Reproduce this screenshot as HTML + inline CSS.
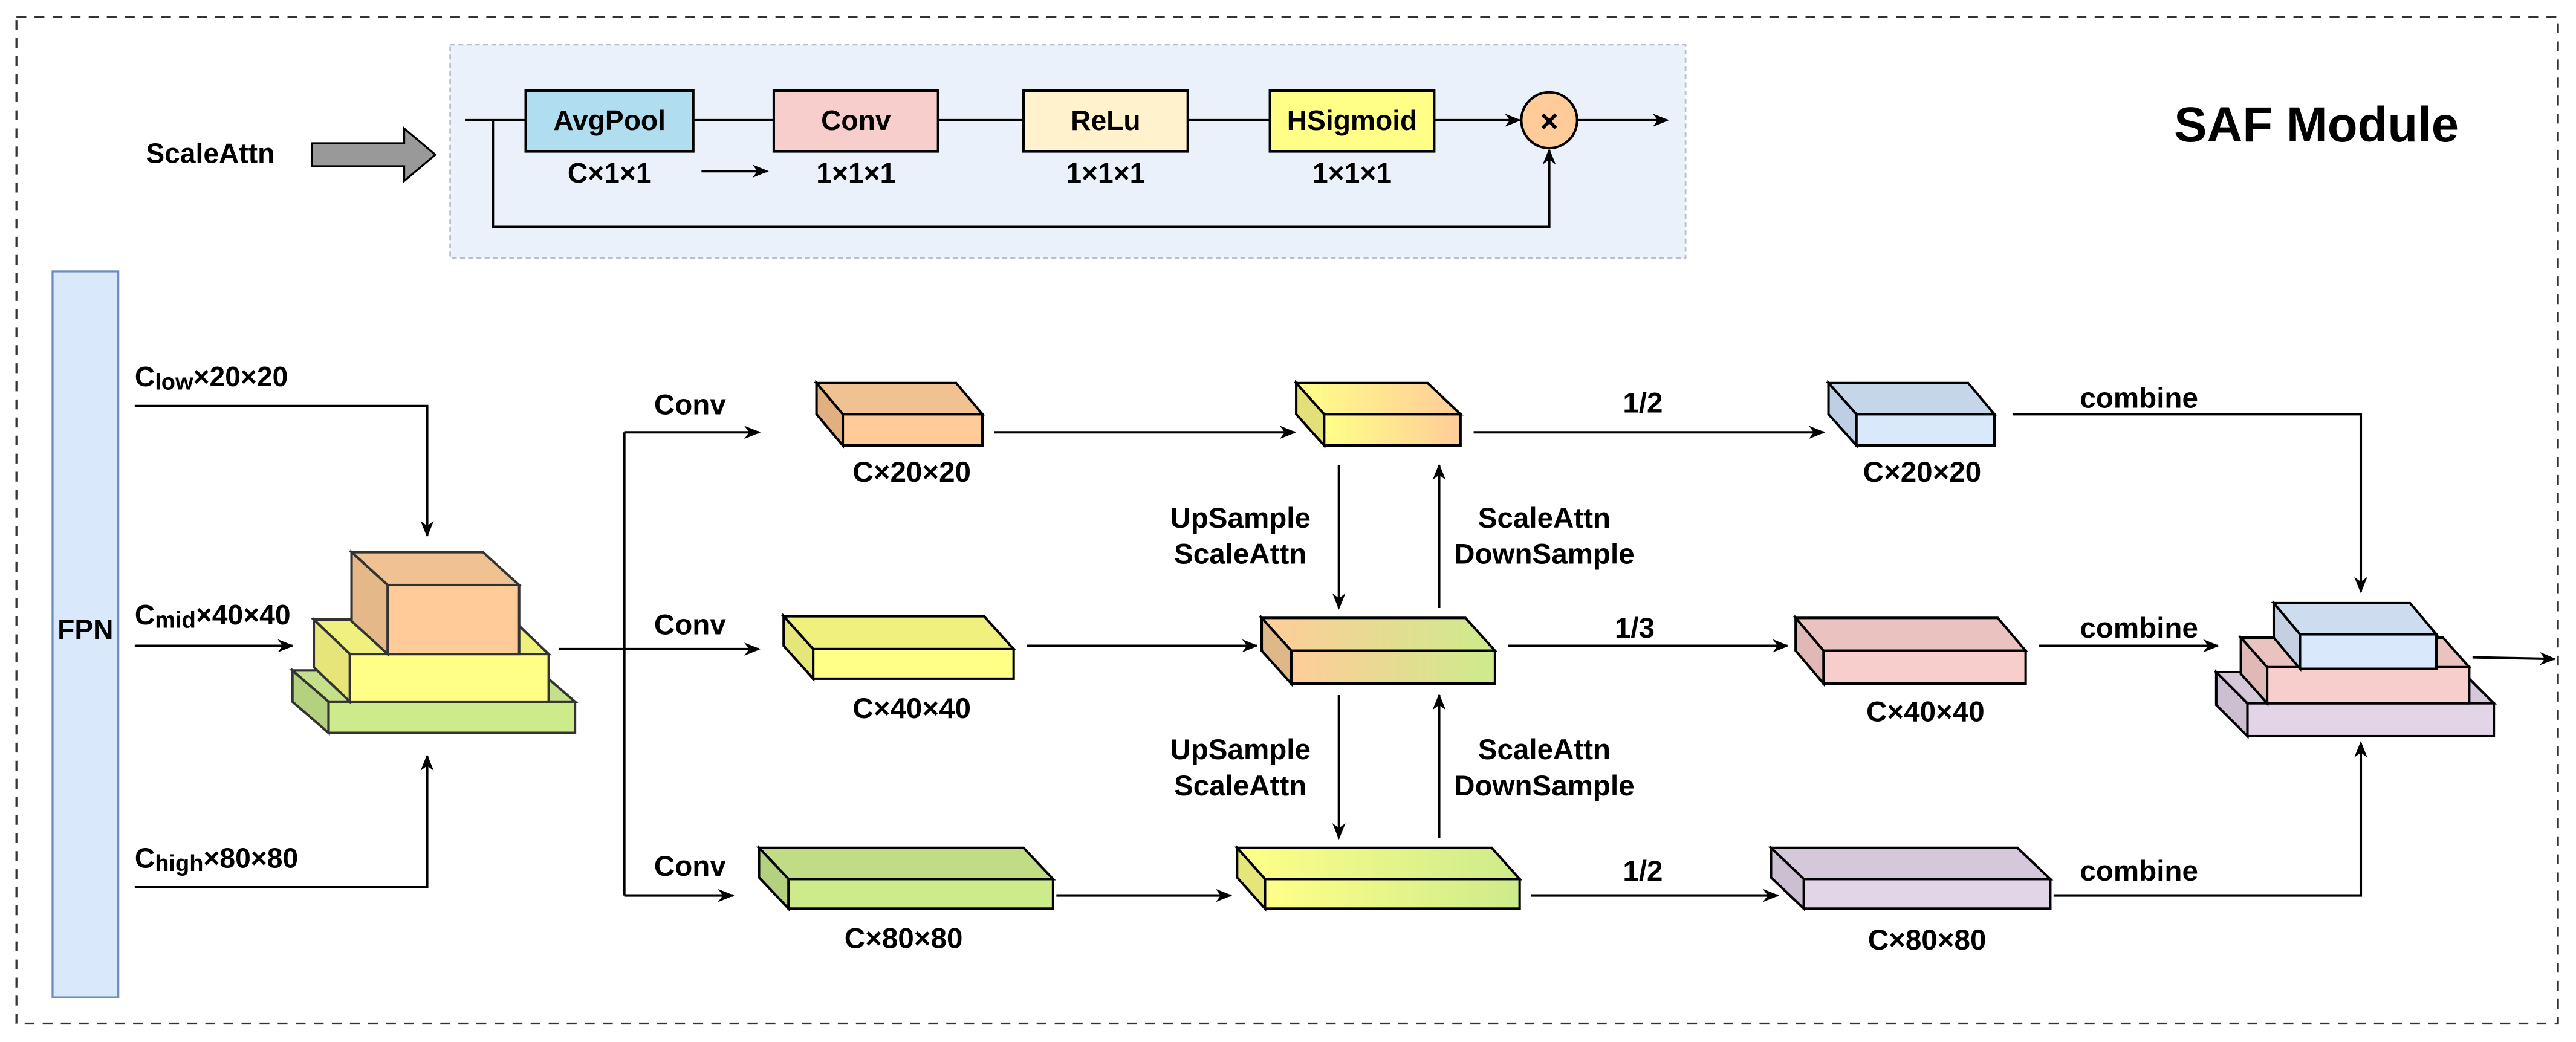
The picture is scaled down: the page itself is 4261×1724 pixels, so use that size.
<!DOCTYPE html>
<html><head><meta charset="utf-8"><style>
html,body{margin:0;padding:0;background:#fff;}
svg{display:block;}
text{font-family:"Liberation Sans",Arial,sans-serif;font-weight:bold;fill:#000;}
</style></head><body>
<svg width="4261" height="1724" viewBox="0 0 1568 634" xmlns="http://www.w3.org/2000/svg">
<defs>
<marker id="a" markerWidth="10" markerHeight="8" refX="9" refY="4" orient="auto" markerUnits="userSpaceOnUse"><path d="M0,0 L10,4 L0,8 L3,4 z" fill="#000"/></marker>
<linearGradient id="g1" x1="0" x2="1"><stop offset="0" stop-color="#ffff88"/><stop offset="1" stop-color="#ffcc99"/></linearGradient>
<linearGradient id="g2" x1="0" x2="1"><stop offset="0" stop-color="#ffcc99"/><stop offset="1" stop-color="#cdeb8b"/></linearGradient>
<linearGradient id="g3" x1="0" x2="1"><stop offset="0" stop-color="#ffff88"/><stop offset="1" stop-color="#cdeb8b"/></linearGradient>
</defs>
<rect x="10" y="10" width="1547" height="613" fill="none" stroke="#333" stroke-width="1.2" stroke-dasharray="6,5"/>
<rect x="274" y="27" width="752" height="130" fill="#eaf1fb" stroke="#b8bfca" stroke-width="1" stroke-dasharray="3,2"/>
<text x="128" y="99" font-size="17" text-anchor="middle">ScaleAttn</text>
<path d="M190,87 H246 V78 L265,94 L246,110 V101 H190 Z" fill="#999" stroke="#000" stroke-width="1.2"/>
<g stroke="#000" stroke-width="1.5" fill="none">
<line x1="283" y1="73" x2="320" y2="73"/>
<line x1="422" y1="73" x2="471" y2="73"/>
<line x1="571" y1="73" x2="623" y2="73"/>
<line x1="723" y1="73" x2="773" y2="73"/>
<line x1="873" y1="73" x2="925" y2="73" marker-end="url(#a)"/>
<line x1="960" y1="73" x2="1015" y2="73" marker-end="url(#a)"/>
<path d="M300,73 V138 H943 V91" marker-end="url(#a)"/>
<line x1="427" y1="104" x2="467" y2="104" marker-end="url(#a)"/>
</g>
<g stroke="#000" stroke-width="1.5">
<rect x="320" y="55" width="102" height="37" fill="#b1ddf0"/>
<rect x="471" y="55" width="100" height="37" fill="#f8cecc"/>
<rect x="623" y="55" width="100" height="37" fill="#fff2cc"/>
<rect x="773" y="55" width="100" height="37" fill="#ffff88"/>
<circle cx="943" cy="73" r="17" fill="#ffcc99"/>
</g>
<text x="943" y="80" font-size="19" text-anchor="middle">×</text>
<g font-size="17" text-anchor="middle">
<text x="371" y="79">AvgPool</text><text x="521" y="79">Conv</text><text x="673" y="79">ReLu</text><text x="823" y="79">HSigmoid</text>
<text x="371" y="111">C×1×1</text><text x="521" y="111">1×1×1</text><text x="673" y="111">1×1×1</text><text x="823" y="111">1×1×1</text>
</g>
<text x="1410" y="86" font-size="30" text-anchor="middle">SAF Module</text>
<rect x="32" y="165" width="40" height="442" fill="#dae8fc" stroke="#6c8ebf" stroke-width="1.2"/>
<text x="52" y="389" font-size="17" text-anchor="middle">FPN</text>
<g font-size="17">
<text x="82" y="235">C<tspan font-size="14" dy="2">low</tspan><tspan dy="-2">×20×20</tspan></text>
<text x="82" y="380">C<tspan font-size="14" dy="2">mid</tspan><tspan dy="-2">×40×40</tspan></text>
<text x="82" y="528">C<tspan font-size="14" dy="2">high</tspan><tspan dy="-2">×80×80</tspan></text>
</g>
<g stroke="#000" stroke-width="1.5" fill="none">
<path d="M82,247 H260 V326" marker-end="url(#a)"/>
<line x1="82" y1="393" x2="178" y2="393" marker-end="url(#a)"/>
<path d="M82,540 H260 V460" marker-end="url(#a)"/>
<line x1="340" y1="395" x2="380" y2="395"/>
<path d="M380,263 V545"/>
<line x1="380" y1="263" x2="462" y2="263" marker-end="url(#a)"/>
<line x1="380" y1="395" x2="462" y2="395" marker-end="url(#a)"/>
<line x1="380" y1="545" x2="446" y2="545" marker-end="url(#a)"/>
<line x1="605" y1="263" x2="788" y2="263" marker-end="url(#a)"/>
<line x1="897" y1="263" x2="1110" y2="263" marker-end="url(#a)"/>
<path d="M1225,252 H1437 V360" marker-end="url(#a)"/>
<line x1="815" y1="283" x2="815" y2="370" marker-end="url(#a)"/>
<line x1="876" y1="370" x2="876" y2="283" marker-end="url(#a)"/>
<line x1="625" y1="393" x2="765" y2="393" marker-end="url(#a)"/>
<line x1="918" y1="393" x2="1088" y2="393" marker-end="url(#a)"/>
<line x1="1241" y1="393" x2="1350" y2="393" marker-end="url(#a)"/>
<line x1="815" y1="423" x2="815" y2="510" marker-end="url(#a)"/>
<line x1="876" y1="510" x2="876" y2="423" marker-end="url(#a)"/>
<line x1="643" y1="545" x2="749" y2="545" marker-end="url(#a)"/>
<line x1="932" y1="545" x2="1082" y2="545" marker-end="url(#a)"/>
<path d="M1250,545 H1437 V452" marker-end="url(#a)"/>
<line x1="1505" y1="400" x2="1555" y2="401" marker-end="url(#a)"/>
</g>
<g font-size="17.5" text-anchor="middle">
<text x="420" y="252">Conv</text><text x="420" y="386">Conv</text><text x="420" y="533">Conv</text>
<text x="555" y="293">C×20×20</text><text x="1170" y="293">C×20×20</text>
<text x="555" y="437">C×40×40</text><text x="1172" y="439">C×40×40</text>
<text x="550" y="577">C×80×80</text><text x="1173" y="578">C×80×80</text>
<text x="1000" y="251">1/2</text><text x="995" y="388">1/3</text><text x="1000" y="536">1/2</text>
<text x="1302" y="248">combine</text><text x="1302" y="388">combine</text><text x="1302" y="536">combine</text>
<text x="755" y="321">UpSample</text><text x="755" y="343">ScaleAttn</text>
<text x="940" y="321">ScaleAttn</text><text x="940" y="343">DownSample</text>
<text x="755" y="462">UpSample</text><text x="755" y="484">ScaleAttn</text>
<text x="940" y="462">ScaleAttn</text><text x="940" y="484">DownSample</text>
</g>
<g stroke="#333" stroke-width="1.5" stroke-linejoin="miter">
<polygon points="200,427 350,427 328,408 178,408" fill="#c5e08a"/>
<polygon points="178,408 200,427 200,446 178,427" fill="#b3d17e"/>
<rect x="200" y="427" width="150" height="19" fill="#cdeb8b"/>
<polygon points="213,398 334,398 312,377 191,377" fill="#f0f07e"/>
<polygon points="191,377 213,398 213,427 191,406" fill="#e5e57a"/>
<rect x="213" y="398" width="121" height="29" fill="#ffff88"/>
<polygon points="236,356 316,356 294,336 214,336" fill="#f0c292"/>
<polygon points="214,336 236,356 236,398 214,378" fill="#e5b88a"/>
<rect x="236" y="356" width="80" height="42" fill="#ffcc99"/>
</g>
<g stroke="#000" stroke-width="1.5">
<polygon points="513,252 598,252 582,233 497,233" fill="#f0c292"/>
<polygon points="497,233 513,252 513,271 497,252" fill="#e0b080"/>
<rect x="513" y="252" width="85" height="19" fill="#ffcc99"/>
<polygon points="806,252 889,252 869,233 789,233" fill="url(#g1)"/>
<polygon points="789,233 806,252 806,271 789,252" fill="#e3e07a"/>
<rect x="806" y="252" width="83" height="19" fill="url(#g1)"/>
<polygon points="1130,252 1214,252 1198,233 1113,233" fill="#c6d6ea"/>
<polygon points="1113,233 1130,252 1130,271 1113,252" fill="#bfcfe3"/>
<rect x="1130" y="252" width="84" height="19" fill="#dae8fc"/>
<polygon points="495,395 617,395 599,375 477,375" fill="#f0f07e"/>
<polygon points="477,375 495,395 495,413 477,393" fill="#e5e57a"/>
<rect x="495" y="395" width="122" height="18" fill="#ffff88"/>
<polygon points="786,396 910,396 892,376 768,376" fill="url(#g2)"/>
<polygon points="768,376 786,396 786,416 768,396" fill="#deb888"/>
<rect x="786" y="396" width="124" height="20" fill="url(#g2)"/>
<polygon points="1110,396 1233,396 1216,376 1093,376" fill="#eac2c0"/>
<polygon points="1093,376 1110,396 1110,416 1093,396" fill="#e0b8b6"/>
<rect x="1110" y="396" width="123" height="20" fill="#f8cecc"/>
<polygon points="480,535 641,535 623,516 462,516" fill="#c0dc84"/>
<polygon points="462,516 480,535 480,553 462,534" fill="#b3d17e"/>
<rect x="480" y="535" width="161" height="18" fill="#cdeb8b"/>
<polygon points="770,535 925,535 908,516 753,516" fill="url(#g3)"/>
<polygon points="753,516 770,535 770,553 753,534" fill="#e5e57a"/>
<rect x="770" y="535" width="155" height="18" fill="url(#g3)"/>
<polygon points="1098,535 1248,535 1228,516 1078,516" fill="#d5c8db"/>
<polygon points="1078,516 1098,535 1098,553 1078,534" fill="#cbbfd1"/>
<rect x="1098" y="535" width="150" height="18" fill="#e1d5e7"/>
<polygon points="1368,428 1518,428 1499,409 1349,409" fill="#d5c8db"/>
<polygon points="1349,409 1368,428 1368,448 1349,429" fill="#cbbfd1"/>
<rect x="1368" y="428" width="150" height="20" fill="#e1d5e7"/>
<polygon points="1380,406 1503,406 1487,388 1364,388" fill="#eac2c0"/>
<polygon points="1364,388 1380,406 1380,428 1364,410" fill="#e0b8b6"/>
<rect x="1380" y="406" width="123" height="22" fill="#f8cecc"/>
<polygon points="1400,386 1483,386 1467,367 1384,367" fill="#cddcee"/>
<polygon points="1384,367 1400,386 1400,407 1384,388" fill="#c4d0e2"/>
<rect x="1400" y="386" width="83" height="21" fill="#dae8fc"/>
</g>
</svg>
</body></html>
